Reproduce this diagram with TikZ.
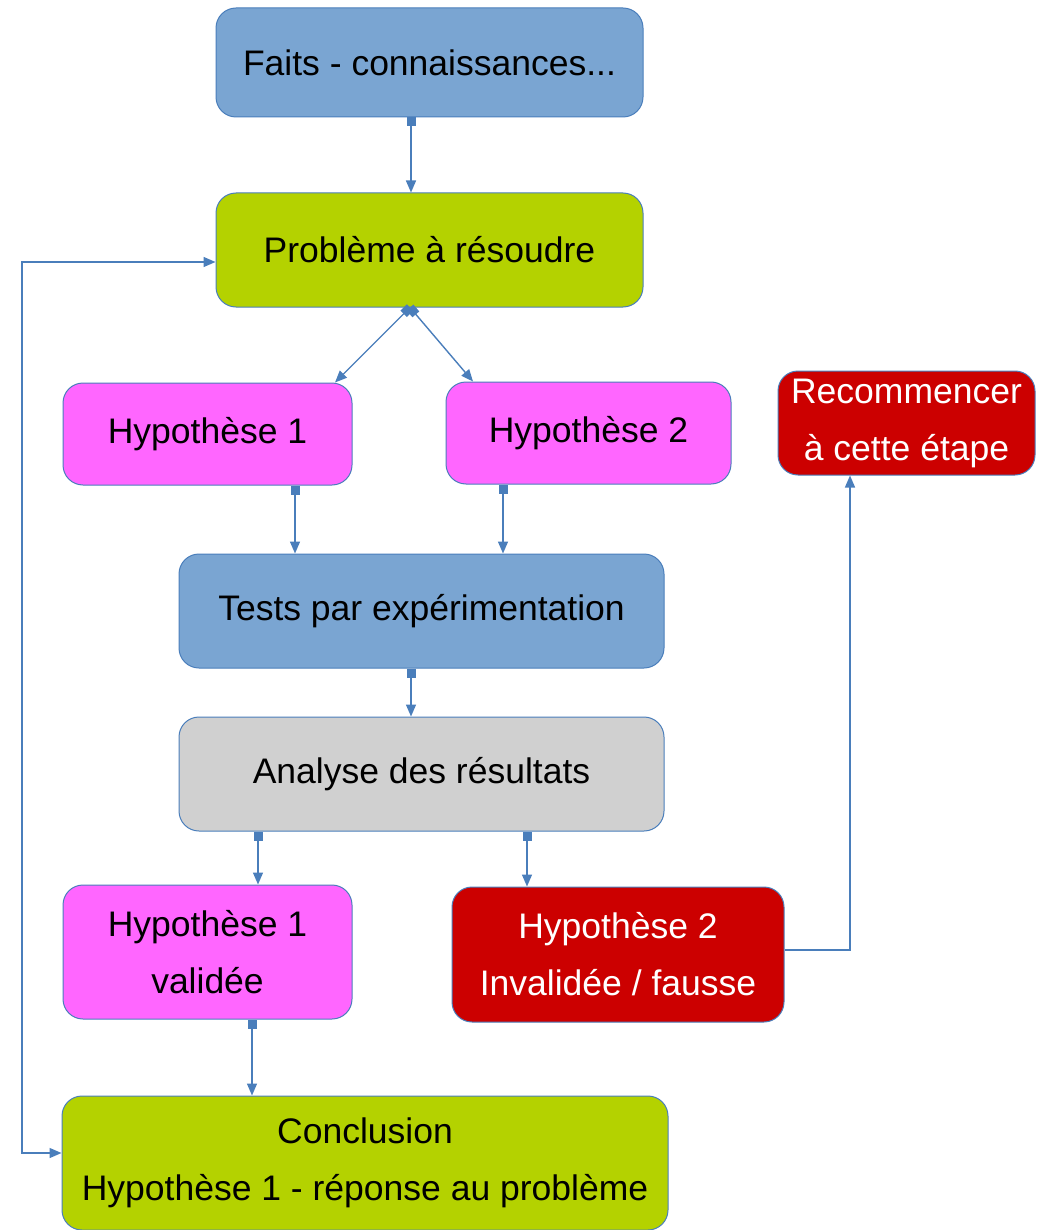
\documentclass[tikz,border=0pt]{standalone}
\usepackage{fontspec}
\setmainfont{Liberation Sans}
\usetikzlibrary{arrows.meta}
\definecolor{bfill}{RGB}{122,165,210}
\definecolor{gfill}{RGB}{180,210,0}
\definecolor{mfill}{RGB}{255,102,255}
\definecolor{rfill}{RGB}{204,0,0}
\definecolor{grfill}{RGB}{208,208,208}
\definecolor{edge}{RGB}{74,126,187}
\tikzset{
  box/.style={rectangle, rounded corners=20pt, draw=edge, line width=1pt, inner sep=0pt, align=center,
    font=\fontsize{35.5}{57}\selectfont},
  conn/.style={draw=edge, line width=1.4pt, {Square[length=9pt,width=9pt]}-{Triangle[length=12pt,width=10pt]}},
  plain/.style={draw=edge, line width=1.4pt, -{Triangle[length=12pt,width=10pt]}},
  both/.style={draw=edge, line width=1.4pt, {Triangle[length=12pt,width=10pt]}-{Triangle[length=12pt,width=10pt]}},
}
\begin{document}
\begin{tikzpicture}[x=1pt,y=-1pt]
\useasboundingbox (0,0) rectangle (1047,1230);
\begin{scope}
\clip (0,0) rectangle (1047,1230);
\node[box, fill=bfill, minimum width=427pt, minimum height=109pt] (faits) at (429.5,62.5) {Faits - connaissances...};
\node[box, fill=gfill, minimum width=427pt, minimum height=114pt] (prob) at (429.5,250) {Problème à résoudre};
\node[box, fill=mfill, minimum width=289pt, minimum height=102pt] (hyp1) at (207.5,434) {Hypothèse 1};
\node[box, fill=mfill, minimum width=285pt, minimum height=102pt] (hyp2) at (588.5,433) {Hypothèse 2};
\node[box, fill=rfill, text=white, minimum width=257pt, minimum height=104pt] (recom) at (906.5,423) {Recommencer\\à cette étape};
\node[box, fill=bfill, minimum width=485pt, minimum height=114pt] (tests) at (421.5,611) {Tests par expérimentation};
\node[box, fill=grfill, minimum width=485pt, minimum height=114pt] (analyse) at (421.5,774) {Analyse des résultats};
\node[box, fill=mfill, minimum width=289pt, minimum height=134pt] (valid) at (207.5,952) {Hypothèse 1\\validée};
\node[box, fill=rfill, text=white, minimum width=332pt, minimum height=135pt] (inval) at (618,954.5) {Hypothèse 2\\Invalidée / fausse};
\node[box, fill=gfill, minimum width=606pt, minimum height=134pt] (concl) at (365,1163) {Conclusion\\Hypothèse 1 - réponse au problème};
\end{scope}
\coordinate (c411) at (411,0);
\coordinate (c410) at (410,0);
\coordinate (c335) at (335,0);
\coordinate (c473) at (473,0);
\coordinate (c295) at (295,0);
\coordinate (c503) at (503,0);
\coordinate (c258) at (258,0);
\coordinate (c527) at (527,0);
\coordinate (c252) at (252,0);
\coordinate (c850) at (850,0);
\coordinate (c22) at (22,0);
\coordinate (r262) at (0,262);
\coordinate (r950) at (0,950);
\coordinate (r1153) at (0,1153);
\path[conn] (faits.south -| c411) -- (prob.north -| c411);
\path[conn] (prob.south -| c410) -- (hyp1.north -| c335);
\path[conn] (prob.south -| c410) -- (hyp2.north -| c473);
\path[conn] (hyp1.south -| c295) -- (tests.north -| c295);
\path[conn] (hyp2.south -| c503) -- (tests.north -| c503);
\path[conn] (tests.south -| c411) -- (analyse.north -| c411);
\path[conn] (analyse.south -| c258) -- (valid.north -| c258);
\path[conn] (analyse.south -| c527) -- (inval.north -| c527);
\path[conn] (valid.south -| c252) -- (concl.north -| c252);
\path[plain] (inval.east |- r950) -| (recom.south -| c850);
\path[both] (prob.west |- r262) -- (c22 |- r262) -- (c22 |- r1153) -- (concl.west |- r1153);
\end{tikzpicture}
\end{document}
